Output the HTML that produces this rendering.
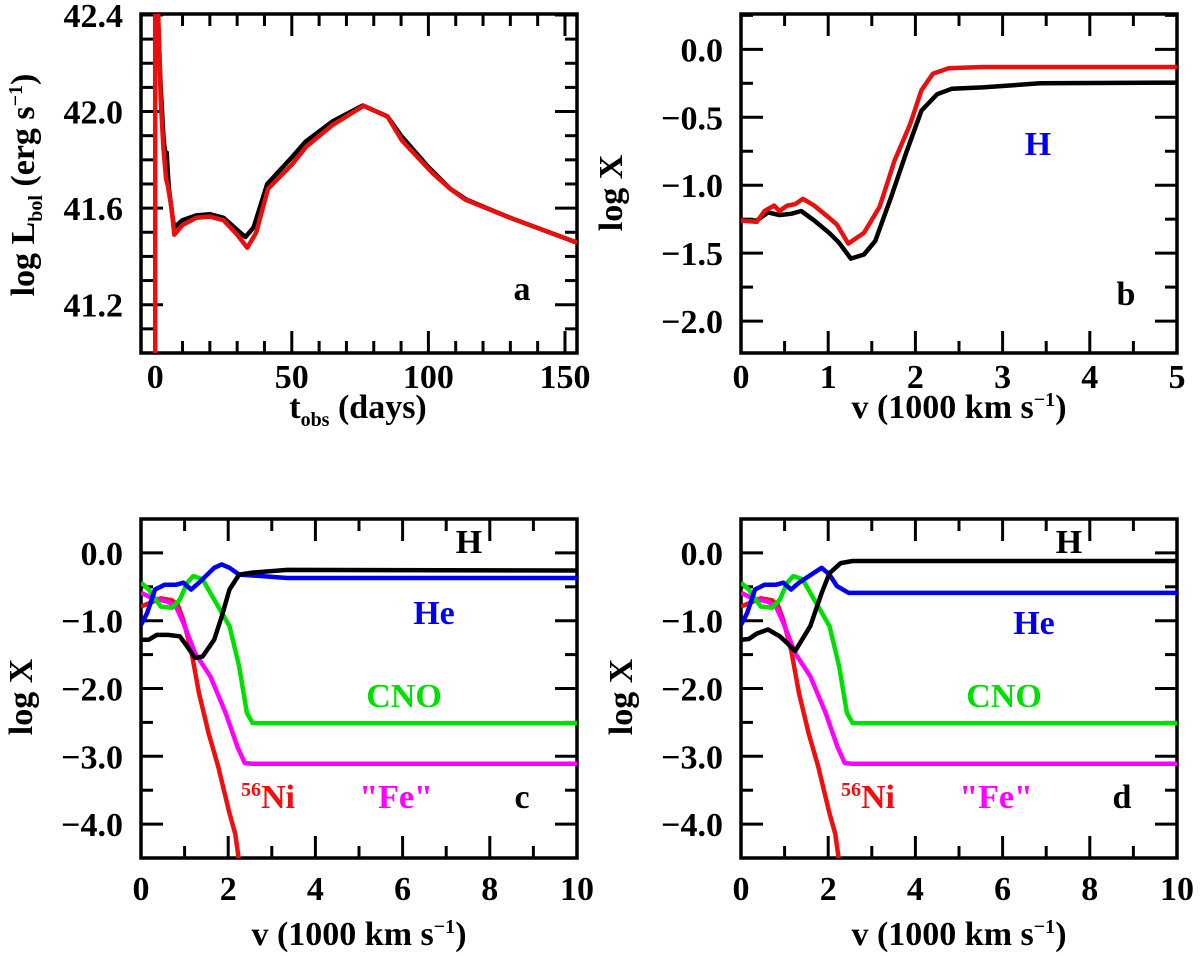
<!DOCTYPE html>
<html><head><meta charset="utf-8">
<style>
html,body{margin:0;padding:0;background:#fff;}
svg{display:block;}
text{font-family:"Liberation Serif",serif;font-weight:bold;}
</style></head>
<body>
<svg id="fig" width="1200" height="956" viewBox="0 0 1200 956" xmlns="http://www.w3.org/2000/svg"></svg>
<script>
// ---- Panel a data: log L_bol vs t_obs ----
const aBlackT = [0.8,2,3,3.8,4.2,4.6,5,6.5,7,10,15,20,25,30,33,36,41,50,55,65,76,85,90,100,108,114,130,154.4];
const aBlackL = [42.45,42.1,41.9,41.8,41.83,41.75,41.68,41.55,41.52,41.55,41.57,41.575,41.56,41.51,41.48,41.52,41.7,41.81,41.875,41.96,42.025,41.98,41.9,41.77,41.68,41.635,41.56,41.457];
const aRedT = [0,0,0.4,1,2,3,4,4.5,6,7,10,15,20,25,30,33.7,37,41.3,50,55.3,65,76.3,85,90.3,101.5,108,113.5,130,154.4];
const aRedL = [40.9,42.45,42.45,42.45,42.05,41.85,41.72,41.7,41.6,41.49,41.53,41.56,41.565,41.55,41.49,41.436,41.5,41.68,41.78,41.855,41.945,42.024,41.98,41.88,41.745,41.68,41.635,41.56,41.457];
const aXTicks = [0,50,100,150];
const aYTicks = [41.2,41.6,42.0,42.4];
// ---- Panel b data: log X(H) vs v ----
const bRedV = [0,0.18,0.27,0.38,0.44,0.53,0.62,0.71,0.84,1.01,1.10,1.23,1.41,1.59,1.76,1.94,2.07,2.20,2.38,2.77,5];
const bRedX = [-1.26,-1.27,-1.19,-1.15,-1.19,-1.15,-1.14,-1.10,-1.15,-1.24,-1.29,-1.43,-1.35,-1.16,-0.82,-0.55,-0.30,-0.18,-0.14,-0.13,-0.13];
const bBlackV = [0,0.18,0.31,0.44,0.58,0.69,0.84,1.01,1.12,1.26,1.41,1.54,1.72,1.89,2.07,2.25,2.42,2.77,3.43,5];
const bBlackX = [-1.26,-1.26,-1.2,-1.22,-1.21,-1.19,-1.26,-1.35,-1.42,-1.54,-1.51,-1.41,-1.09,-0.77,-0.45,-0.33,-0.29,-0.28,-0.25,-0.245];
const bXTicks = [0,1,2,3,4,5];
const bYTicks = [0.0,-0.5,-1.0,-1.5,-2.0];
// ---- Panel c/d data ----
const cHV = [0,0.18,0.36,0.62,0.89,1.06,1.24,1.41,1.68,1.85,2.03,2.25,2.56,3.35,10];
const cHX = [-1.28,-1.28,-1.21,-1.21,-1.23,-1.38,-1.55,-1.53,-1.28,-0.94,-0.54,-0.32,-0.29,-0.25,-0.26];
const cHeV = [0,0.14,0.32,0.54,0.8,0.97,1.15,1.33,1.68,1.85,2.03,2.25,2.73,3.35,10];
const cHeX = [-1.06,-0.89,-0.54,-0.47,-0.47,-0.44,-0.54,-0.44,-0.22,-0.17,-0.22,-0.32,-0.34,-0.37,-0.37];
const cnoV = [0,0.18,0.45,0.71,0.89,1.06,1.2,1.41,1.77,2.03,2.25,2.43,2.56,10];
const cnoX = [-0.44,-0.54,-0.79,-0.81,-0.69,-0.44,-0.34,-0.39,-0.79,-1.08,-1.67,-2.36,-2.51,-2.51];
const feV = [0,0.27,0.62,0.8,0.97,1.24,1.59,1.94,2.21,2.38,2.56,10];
const feX = [-0.59,-0.67,-0.72,-0.79,-1.03,-1.48,-1.82,-2.36,-2.86,-3.1,-3.11,-3.11];
const niV = [0,0.27,0.45,0.71,0.84,0.97,1.15,1.33,1.55,1.77,2.03,2.16,2.25];
const niX = [-0.79,-0.72,-0.67,-0.7,-0.76,-0.99,-1.43,-2.07,-2.66,-3.15,-3.84,-4.14,-4.55];
const dHV = [0,0.18,0.36,0.62,0.89,1.06,1.24,1.59,1.85,2.03,2.29,2.56,10];
const dHX = [-1.28,-1.27,-1.19,-1.13,-1.23,-1.33,-1.45,-1.08,-0.59,-0.3,-0.15,-0.12,-0.12];
const dHeV = [0,0.14,0.32,0.54,0.8,0.97,1.15,1.33,1.68,1.85,2.03,2.2,2.47,10];
const dHeX = [-1.06,-0.89,-0.54,-0.47,-0.47,-0.44,-0.54,-0.44,-0.29,-0.22,-0.32,-0.49,-0.59,-0.59];
const cdXTicks = [0,2,4,6,8,10];
const cdYTicks = [0.0,-1.0,-2.0,-3.0,-4.0];

const NS = "http://www.w3.org/2000/svg";
const svg = document.getElementById('fig');
function mk(tag, attrs, parent){
  const e = document.createElementNS(NS, tag);
  for (const k in attrs) e.setAttribute(k, attrs[k]);
  (parent||svg).appendChild(e);
  return e;
}
function makePanel(name, L, R, T, B, xmin, xmax, ymin, ymax){
  const g = mk('g', {});
  
  
  const clipId = name + '-clip';
  const cp = mk('clipPath', {id: clipId}, g);
  mk('rect', {x: L, y: T, width: R-L, height: B-T}, cp);
  return {g, L, R, T, B,
    sx: v => L + (v - xmin) / (xmax - xmin) * (R - L),
    sy: v => B - (v - ymin) / (ymax - ymin) * (B - T),
    xmin, xmax, ymin, ymax, clipId};
}
function frame(p, xMajor, xMinorStep, yMajor, yMinorStep, xFmt, yFmt, labelBaseline){
  const g = p.g;
  const tk = mk('g', {stroke:'#000','stroke-width':3}, g);
  
  
  for (let v = Math.ceil(p.xmin / xMinorStep) * xMinorStep; v <= p.xmax + 1e-9; v += xMinorStep){
    const isMaj = xMajor.some(m => Math.abs(m - v) < 1e-6);
    const len = isMaj ? 22 : 12;
    const x = p.sx(v);
    mk('line', {x1:x, x2:x, y1:p.B, y2:p.B-len}, tk);
    mk('line', {x1:x, x2:x, y1:p.T, y2:p.T+len}, tk);
  }
  for (let v = Math.ceil(p.ymin / yMinorStep) * yMinorStep; v <= p.ymax + 1e-9; v += yMinorStep){
    const isMaj = yMajor.some(m => Math.abs(m - v) < 1e-6);
    const len = isMaj ? 22 : 12;
    const y = p.sy(v);
    mk('line', {x1:p.L, x2:p.L+len, y1:y, y2:y}, tk);
    mk('line', {x1:p.R, x2:p.R-len, y1:y, y2:y}, tk);
  }
  const fr = mk('rect', {x:p.L, y:p.T, width:p.R-p.L, height:p.B-p.T, fill:'none', stroke:'#000', 'stroke-width':3.5}, g);
  
  
  xMajor.forEach(v => {
    const t = mk('text', {x:p.sx(v), y:labelBaseline, 'text-anchor':'middle', 'font-size':34, fill:'#000'}, g);
    t.textContent = xFmt(v);
    
    
  });
  yMajor.forEach(v => {
    const t = mk('text', {x:p.L-18, y:p.sy(v)+12, 'text-anchor':'end', 'font-size':34, fill:'#000'}, g);
    t.textContent = yFmt(v);
    
    
  });
}
function series(p, xs, ys, color, name){
  const pts = xs.map((x, i) => p.sx(x).toFixed(1) + ',' + p.sy(ys[i]).toFixed(1)).join(' ');
  const pl = mk('polyline', {points: pts, fill:'none', stroke: color, 'stroke-width':4.5, 'stroke-linejoin':'round', 'clip-path':'url(#' + p.clipId + ')'}, p.g);
  
  
}
function label(parent, x, y, txt, color, name, size, anchor){
  const t = mk('text', {x, y, fill: color, 'font-size': size || 34, 'text-anchor': anchor || 'middle'}, parent);
  t.textContent = txt;
  
  
  return t;
}
const neg = v => (v < 0 ? '\u2212' : '') + Math.abs(v).toFixed(1);

// Panel a
const pa = makePanel('panel-a', 141, 577, 14, 353, -5.2, 154.4, 41.0, 42.404);
frame(pa, aXTicks, 10, aYTicks, 0.1, v => String(v), v => v.toFixed(1), 388);
series(pa, aBlackT, aBlackL, '#000', 'series-a-black');
series(pa, aRedT, aRedL, '#e8100f', 'series-a-red');
label(pa.g, 522, 300, 'a', '#000', 'panel-a-label');
{
  const t = mk('text', {x: 358, y: 418, 'text-anchor':'middle', 'font-size':34, fill:'#000'}, pa.g);
  
  
  t.innerHTML = 't<tspan font-size="20" dy="8">obs</tspan><tspan dy="-8"> (days)</tspan>';
  const y = mk('text', {x: 0, y: 0, 'text-anchor':'middle', 'font-size':34, fill:'#000', transform:'translate(34,185) rotate(-90)'}, pa.g);
  
  
  y.innerHTML = 'log L<tspan font-size="20" dy="8">bol</tspan><tspan dy="-8"> (erg s</tspan><tspan font-size="20" dy="-12">\u22121</tspan><tspan dy="12">)</tspan>';
}

// Panel b
const pb = makePanel('panel-b', 741, 1177, 14, 353, 0, 5, -2.235, 0.26);
frame(pb, bXTicks, 0.5, bYTicks, 0.25, v => String(v), neg, 388);
series(pb, bBlackV, bBlackX, '#000', 'series-b-black');
series(pb, bRedV, bRedX, '#e8100f', 'series-b-red');
label(pb.g, 1038, 155, 'H', '#0000ee', 'label-h-b');
label(pb.g, 1126, 305, 'b', '#000', 'panel-b-label');
function vTitle(g, cx, y, name){
  const t = mk('text', {x: cx, y: y, 'text-anchor':'middle', 'font-size':34, fill:'#000'}, g);
  
  
  t.innerHTML = 'v (1000 km s<tspan font-size="20" dy="-12">\u22121</tspan><tspan dy="12">)</tspan>';
}
function yTitle(g, cx, cy, name){
  const t = mk('text', {x:0, y:0, 'text-anchor':'middle', 'font-size':34, fill:'#000', transform:'translate(' + cx + ',' + cy + ') rotate(-90)'}, g);
  
  
  t.textContent = 'log X';
}
vTitle(pb.g, 959, 418, 'x-axis-title-b');
yTitle(pb.g, 622, 193, 'y-axis-title-b');

// Panels c and d
function compPanel(name, off, hV, hX, heV, heX, heLabelY, letter){
  const p = makePanel(name, 141 + off, 577 + off, 519, 858, 0, 10, -4.5, 0.5);
  frame(p, cdXTicks, 1, cdYTicks, 0.5, v => String(v), neg, 900);
  series(p, niV, niX, '#ee1010', 'series-ni56');
  series(p, feV, feX, '#ff00ff', 'series-fe');
  series(p, cnoV, cnoX, '#00e000', 'series-cno');
  series(p, heV, heX, '#0000ee', 'series-he');
  series(p, hV, hX, '#000', 'series-h');
  label(p.g, 469 + off, 553, 'H', '#000', 'label-h');
  label(p.g, 434 + off, heLabelY, 'He', '#0000ee', 'label-he');
  label(p.g, 404 + off, 707, 'CNO', '#00e000', 'label-cno');
  const ni = mk('text', {x: 268 + off, y: 808, 'text-anchor':'middle', 'font-size':34, fill:'#ee1010'}, p.g);
  
  
  ni.innerHTML = '<tspan font-size="20" dy="-12">56</tspan><tspan dy="12">Ni</tspan>';
  label(p.g, 396 + off, 808, '"Fe"', '#ff00ff', 'label-fe');
  label(p.g, 522 + off, 808, letter, '#000', 'panel-' + letter + '-label');
  vTitle(p.g, 359 + off, 945, 'x-axis-title-' + letter);
  yTitle(p.g, 32 + off, 697, 'y-axis-title-' + letter);
}
compPanel('panel-c', 0, cHV, cHX, cHeV, cHeX, 624, 'c');
compPanel('panel-d', 600, dHV, dHX, dHeV, dHeX, 634, 'd');
</script>
</body></html>
